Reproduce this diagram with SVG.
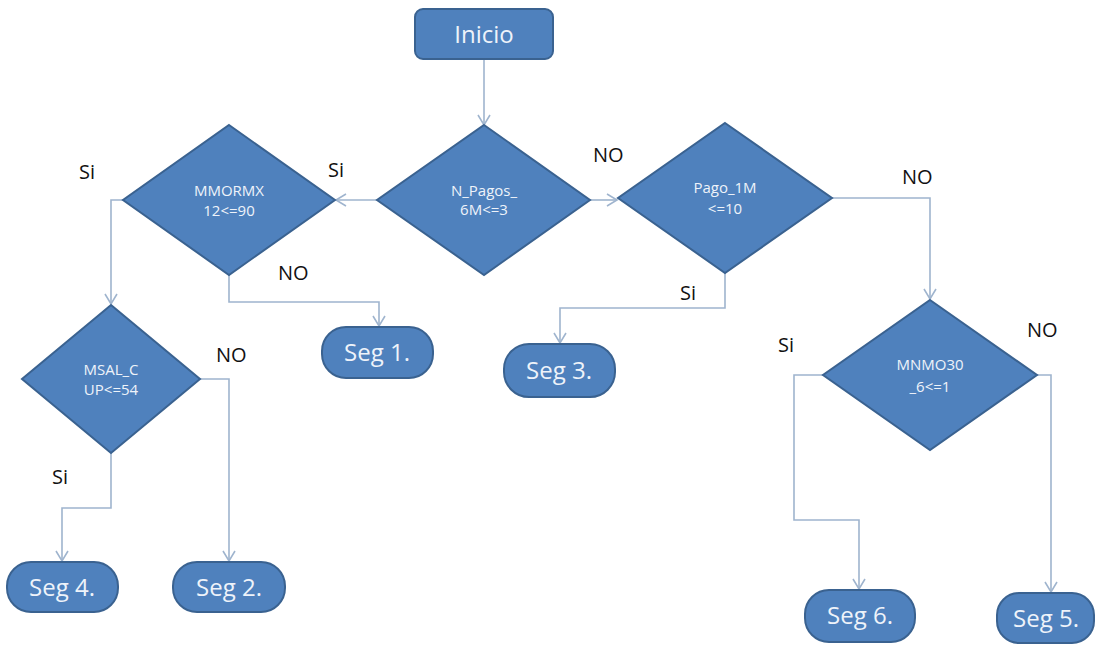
<svg xmlns="http://www.w3.org/2000/svg" width="1099" height="645" viewBox="0 0 1099 645">
<style>
.n{fill:#4F81BD;stroke:#3A6290;stroke-width:2}
.t{font-family:"Open Sans","Liberation Sans",sans-serif;fill:#EEF3FA;text-anchor:middle}
.d{font-size:15px}
.b{font-size:24px}
.l{font-family:"Open Sans","Liberation Sans",sans-serif;font-size:20px;fill:#111}
.c{fill:none;stroke:#9FB4CE;stroke-width:1.6}
</style>
<defs>
<marker id="a" markerWidth="14" markerHeight="14" refX="11" refY="7" orient="auto" markerUnits="userSpaceOnUse">
<path d="M1,1 L11,7 L1,13" fill="none" stroke="#9FB4CE" stroke-width="1.6"/>
</marker>
</defs>
<rect width="1099" height="645" fill="#fff"/>
<g id="connectors">
<path class="c" d="M484,59 V125" marker-end="url(#a)"/>
<path class="c" d="M377,200 H336" marker-end="url(#a)"/>
<path class="c" d="M590,200 H617" marker-end="url(#a)"/>
<path class="c" d="M123,200 H111 V304" marker-end="url(#a)"/>
<path class="c" d="M229,275 V302 H379 V326" marker-end="url(#a)"/>
<path class="c" d="M725,273 V308 H560 V343" marker-end="url(#a)"/>
<path class="c" d="M832,198 H930 V299" marker-end="url(#a)"/>
<path class="c" d="M200,379 H229 V561" marker-end="url(#a)"/>
<path class="c" d="M111,453 V508 H62 V561" marker-end="url(#a)"/>
<path class="c" d="M823,375 H794 V520 H859 V589" marker-end="url(#a)"/>
<path class="c" d="M1037,375 H1051 V592" marker-end="url(#a)"/>
</g>
<g id="inicio">
<rect class="n" x="415" y="9" width="138" height="50" rx="8"/>
<text class="t b" x="484" y="43">Inicio</text>
</g>
<g id="npagos">
<polygon class="n" points="484,125 590,200 484,275 377,200"/>
<text class="t d" x="484" y="196">N_Pagos_</text>
<text class="t d" x="484" y="215">6M&lt;=3</text>
</g>
<g id="mmormx">
<polygon class="n" points="229,125 335,200 229,275 123,200"/>
<text class="t d" x="229" y="196">MMORMX</text>
<text class="t d" x="229" y="216">12&lt;=90</text>
</g>
<g id="pago1m">
<polygon class="n" points="725,123 832,198 725,273 618,198"/>
<text class="t d" x="725" y="193">Pago_1M</text>
<text class="t d" x="725" y="214">&lt;=10</text>
</g>
<g id="msalcup">
<polygon class="n" points="111,305 200,379 111,453 22,379"/>
<text class="t d" x="111" y="375">MSAL_C</text>
<text class="t d" x="111" y="395">UP&lt;=54</text>
</g>
<g id="mnmo30">
<polygon class="n" points="930,300 1037,375 930,450 823,375"/>
<text class="t d" x="930" y="370">MNMO30</text>
<text class="t d" x="930" y="392">_6&lt;=1</text>
</g>
<g id="seg1">
<rect class="n" x="322" y="327" width="111" height="51" rx="24"/>
<text class="t b" x="377" y="361">Seg 1.</text>
</g>
<g id="seg3">
<rect class="n" x="504" y="344" width="111" height="53" rx="25"/>
<text class="t b" x="559" y="379">Seg 3.</text>
</g>
<g id="seg4">
<rect class="n" x="7" y="562" width="111" height="50" rx="24"/>
<text class="t b" x="62" y="596">Seg 4.</text>
</g>
<g id="seg2">
<rect class="n" x="173" y="562" width="112" height="50" rx="24"/>
<text class="t b" x="229" y="596">Seg 2.</text>
</g>
<g id="seg6">
<rect class="n" x="805" y="590" width="110" height="52" rx="24"/>
<text class="t b" x="860" y="624">Seg 6.</text>
</g>
<g id="seg5">
<rect class="n" x="997" y="593" width="97" height="50" rx="22"/>
<text class="t b" x="1046" y="627">Seg 5.</text>
</g>
<g id="labels">
<text class="l" x="79" y="179">Si</text>
<text class="l" x="328" y="177">Si</text>
<text class="l" x="278" y="280">NO</text>
<text class="l" x="593" y="162">NO</text>
<text class="l" x="902" y="184">NO</text>
<text class="l" x="680" y="300">Si</text>
<text class="l" x="216" y="362">NO</text>
<text class="l" x="52" y="484">Si</text>
<text class="l" x="778" y="352">Si</text>
<text class="l" x="1027" y="337">NO</text>
</g>
</svg>
